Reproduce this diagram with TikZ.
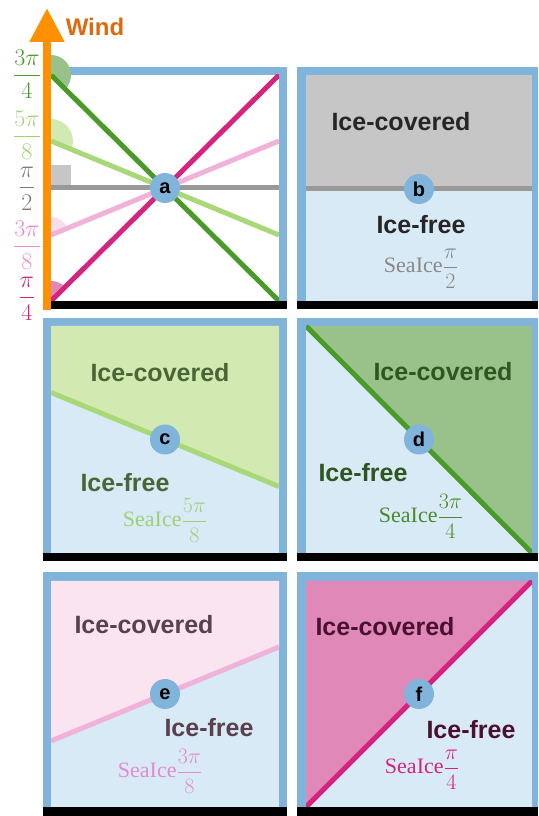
\RequirePackage{fix-cm}
\documentclass[tikz,border=0pt]{standalone}
\usepackage{amsmath}
\usepackage{fontspec}
\setsansfont{Liberation Sans}
\newfontfamily\seafont{Liberation Serif}
\usepackage{tikz}
\usetikzlibrary{arrows.meta}
\definecolor{framebl}{RGB}{128,180,218}
\definecolor{freebl}{RGB}{217,234,247}
\definecolor{windor}{RGB}{255,145,0}
\definecolor{windtx}{RGB}{222,106,12}
\definecolor{grayfill}{RGB}{198,198,198}
\definecolor{grayln}{RGB}{153,153,153}
\definecolor{graytx}{RGB}{38,38,38}
\definecolor{graysea}{RGB}{136,136,136}
\definecolor{lgfill}{RGB}{211,233,178}
\definecolor{lgln}{RGB}{168,216,120}
\definecolor{lgtx}{RGB}{74,102,54}
\definecolor{lgsea}{RGB}{160,208,118}
\definecolor{dgfill}{RGB}{153,194,138}
\definecolor{dgln}{RGB}{74,154,42}
\definecolor{dgtx}{RGB}{47,85,32}
\definecolor{dgsea}{RGB}{74,138,42}
\definecolor{pkfill}{RGB}{249,228,240}
\definecolor{pkln}{RGB}{240,178,216}
\definecolor{pktx}{RGB}{90,63,76}
\definecolor{pksea}{RGB}{229,138,208}
\definecolor{mgfill}{RGB}{224,136,184}
\definecolor{mgln}{RGB}{212,36,126}
\definecolor{mgtx}{RGB}{74,16,48}
\tikzset{
  frame/.style={fill=framebl},
  icefree/.style={fill=freebl},
  baseline bar/.style={fill=black},
  boundary/.style={line width=5pt},
  tag/.style={circle, fill=framebl, minimum size=30pt, inner sep=0pt, font=\sffamily\bfseries\fontsize{20}{24}\selectfont},
  zone/.style={inner sep=0pt, font=\sffamily\bfseries\fontsize{25}{30}\selectfont},
  sealbl/.style={anchor=base, inner sep=0pt, font=\seafont\fontsize{22}{26}\selectfont},
  anglbl/.style={anchor=base, inner sep=0pt, font=\fontsize{24}{28}\selectfont}
}

\begin{document}
\begin{tikzpicture}[x=1pt, y=1pt]
  \useasboundingbox (0,0) rectangle (538,816);
  % (a) all angles
  \fill[frame] (43,749) rectangle (287,515);
  \fill[white] (51,741) rectangle (279,515);
  \fill[baseline bar] (43,515) rectangle (287,507);
  \fill[dgfill] (51,741) -- ++(90:20) arc[start angle=90, end angle=-45, radius=20] -- cycle;
  \fill[lgfill] (51,675) -- ++(90:22) arc[start angle=90, end angle=-22.5, radius=22] -- cycle;
  \fill[grayfill] (51,631) rectangle (71,651);
  \fill[pkfill!85!pkln] (51,581) -- ++(90:18) arc[start angle=90, end angle=22.5, radius=18] -- cycle;
  \fill[mgfill] (51,515) -- ++(90:20) arc[start angle=90, end angle=45, radius=20] -- cycle;
  \begin{scope}
    \clip (51,741) rectangle (279,515);
    \draw[boundary, grayln] (51,628) -- (279,628);
    \draw[boundary, lgln] (51,675) -- (279,581);
    \draw[boundary, pkln] (51,581) -- (279,675);
    \draw[boundary, dgln] (51,741) -- (279,515);
    \draw[boundary, mgln] (51,515) -- (279,741);
  \end{scope}
  \node[tag] (tagA) at (165,628) {a};
  \coordinate (windfoot) at (47,506);
  \coordinate (windtip) at (47,808);
  \draw[windor, line width=8pt, -{Triangle[length=34pt, width=33pt]}] (windfoot) -- (windtip);
  \node[inner sep=0pt, text=windtx, font=\sffamily\bfseries\fontsize{24}{28}\selectfont] (wind) at (95,789) {Wind};
  \node[anglbl, text=dgln] (ang34) at (27,734) {$\dfrac{3\pi}{4}$};
  \node[anglbl, text=lgsea] (ang58) at (27,673) {$\dfrac{5\pi}{8}$};
  \node[anglbl, text=grayln!80!black] (ang12) at (27,622) {$\dfrac{\pi}{2}$};
  \node[anglbl, text=pksea] (ang38) at (27,563) {$\dfrac{3\pi}{8}$};
  \node[anglbl, text=mgln] (ang14) at (27,512) {$\dfrac{\pi}{4}$};

  % (b) pi/2
  \fill[frame] (297,749) rectangle (538,515);
  \fill[icefree] (306,741) rectangle (532,515);
  \fill[grayfill] (306,741) rectangle (532,627);
  \draw[boundary, grayln] (306,627) -- (532,627);
  \fill[baseline bar] (297,515) rectangle (538,507);
  \node[tag] (tagB) at (419,627) {b};
  \node[zone, text=graytx] (coverB) at (401,694) {Ice-covered};
  \node[zone, text=graytx] (freeB) at (421,591) {Ice-free};
  \node[sealbl, text=graysea] (seaB) at (421,543) {SeaIce$\dfrac{\pi}{2}$};

  % (c) 5pi/8
  \fill[frame] (43,498) rectangle (287,263);
  \fill[icefree] (51,490) rectangle (279,263);
  \fill[lgfill] (51,490) -- (51,423.5) -- (279,329.5) -- (279,490) -- cycle;
  \begin{scope}
    \clip (51,490) rectangle (279,263);
    \draw[boundary, lgln] (51,423.5) -- (279,329.5);
  \end{scope}
  \fill[baseline bar] (43,263) rectangle (287,255);
  \node[tag] (tagC) at (165,376.5) {c};
  \node[zone, text=lgtx] (coverC) at (160,443) {Ice-covered};
  \node[zone, text=lgtx] (freeC) at (125,333) {Ice-free};
  \node[sealbl, text=lgsea] (seaC) at (165,289) {SeaIce$\dfrac{5\pi}{8}$};

  % (d) 3pi/4
  \fill[frame] (297,498) rectangle (538,263);
  \fill[icefree] (306,490) rectangle (532,263);
  \fill[dgfill] (306,490) -- (532,263) -- (532,490) -- cycle;
  \begin{scope}
    \clip (306,490) rectangle (532,263);
    \draw[boundary, dgln] (306,490) -- (532,263);
  \end{scope}
  \fill[baseline bar] (297,263) rectangle (538,255);
  \node[tag] (tagD) at (419,376.5) {d};
  \node[zone, text=dgtx] (coverD) at (443,444) {Ice-covered};
  \node[zone, text=dgtx] (freeD) at (363,343) {Ice-free};
  \node[sealbl, text=dgsea] (seaD) at (421,293) {SeaIce$\dfrac{3\pi}{4}$};

  % (e) 3pi/8
  \fill[frame] (43,244) rectangle (287,9);
  \fill[icefree] (51,235) rectangle (279,9);
  \fill[pkfill] (51,235) -- (51,75) -- (279,169) -- (279,235) -- cycle;
  \begin{scope}
    \clip (51,235) rectangle (279,9);
    \draw[boundary, pkln] (51,75) -- (279,169);
  \end{scope}
  \fill[baseline bar] (43,9) rectangle (287,0);
  \node[tag] (tagE) at (165,122) {e};
  \node[zone, text=pktx] (coverE) at (144,191) {Ice-covered};
  \node[zone, text=pktx] (freeE) at (209,88) {Ice-free};
  \node[sealbl, text=pksea] (seaE) at (160,38) {SeaIce$\dfrac{3\pi}{8}$};

  % (f) pi/4
  \fill[frame] (297,244) rectangle (538,9);
  \fill[icefree] (306,235) rectangle (532,9);
  \fill[mgfill] (306,235) -- (306,9) -- (532,235) -- cycle;
  \begin{scope}
    \clip (306,235) rectangle (532,9);
    \draw[boundary, mgln] (306,9) -- (532,235);
  \end{scope}
  \fill[baseline bar] (297,9) rectangle (538,0);
  \node[tag] (tagF) at (419,122) {f};
  \node[zone, text=mgtx] (coverF) at (385,189) {Ice-covered};
  \node[zone, text=mgtx] (freeF) at (471,86) {Ice-free};
  \node[sealbl, text=mgln] (seaF) at (422,42) {SeaIce$\dfrac{\pi}{4}$};
\end{tikzpicture}
\end{document}
